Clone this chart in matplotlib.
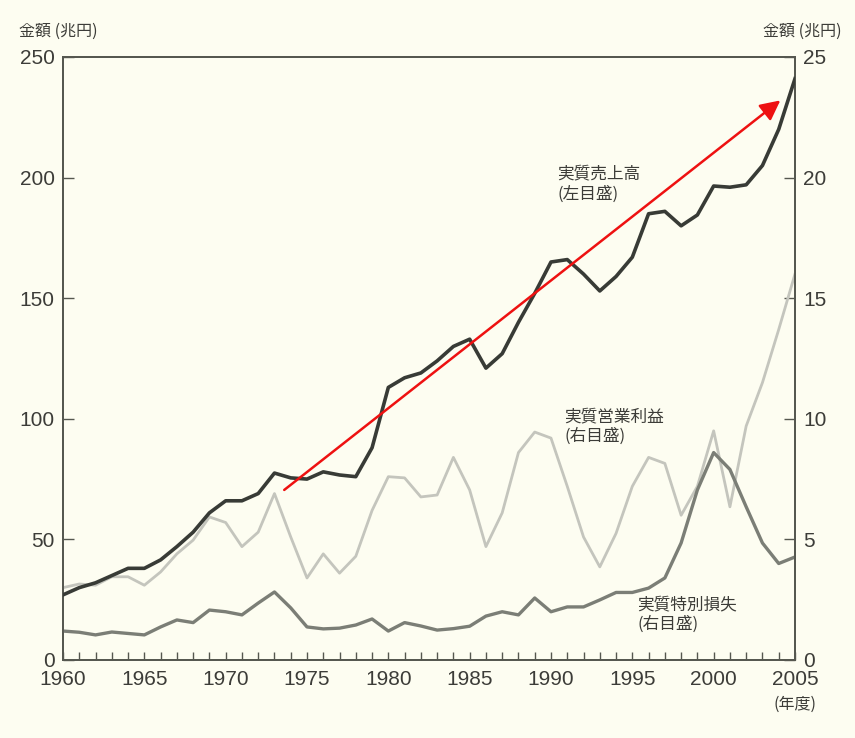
import numpy as np
import matplotlib
matplotlib.use("Agg")
import matplotlib.pyplot as plt

plt.rcParams['font.family'] = ['Liberation Sans', 'Noto Sans CJK JP', 'DejaVu Sans']

years = list(range(1960, 2006))

# 実質売上高 (left axis, 兆円)
sales = [27, 30, 32, 35, 38, 38, 41.5, 47, 53, 61,
         66, 66, 69, 77.5, 75.5, 75, 78, 76.7, 76, 88,
         113, 117, 119, 124, 130, 133, 121, 127, 140, 152,
         165, 166, 160, 153, 159, 167, 185, 186, 180, 184.5,
         196.5, 196, 197, 205, 220, 241]

# 実質営業利益 (right axis, 兆円)
op_profit = [3.0, 3.15, 3.1, 3.45, 3.45, 3.1, 3.65, 4.4, 4.97, 5.93,
             5.7, 4.7, 5.3, 6.9, 5.1, 3.4, 4.4, 3.6, 4.3, 6.2,
             7.6, 7.55, 6.76, 6.84, 8.4, 7.05, 4.7, 6.1, 8.6, 9.45,
             9.2, 7.2, 5.1, 3.86, 5.25, 7.2, 8.4, 8.15, 6.0, 7.2,
             9.5, 6.35, 9.7, 11.5, 13.7, 16.0]

# 実質特別損失 (right axis, 兆円)
sp_loss = [1.2, 1.15, 1.04, 1.16, 1.1, 1.04, 1.37, 1.66, 1.55, 2.07,
           2.0, 1.87, 2.36, 2.82, 2.16, 1.37, 1.29, 1.32, 1.45, 1.7,
           1.2, 1.55, 1.41, 1.24, 1.3, 1.4, 1.82, 2.0, 1.87, 2.57,
           2.0, 2.2, 2.2, 2.49, 2.8, 2.8, 2.98, 3.4, 4.85, 7.05,
           8.6, 7.9, 6.35, 4.85, 4.0, 4.27]

bg = '#fdfdf1'
text_c = '#3c3c38'
jp = ['Noto Sans CJK JP', 'DejaVu Sans']

fig = plt.figure(figsize=(8.55, 7.38), dpi=100, facecolor=bg)
ax = fig.add_axes([0.0737, 0.1057, 0.8561, 0.8171])
ax.set_facecolor(bg)
ax2 = ax.twinx()

ax2.plot(years, op_profit, color='#c4c5bd', lw=2.0, zorder=2)
ax2.plot(years, sp_loss, color='#7b7e76', lw=2.4, zorder=3)
ax.plot(years, sales, color='#383b36', lw=2.6, zorder=4)
ax.set_zorder(ax2.get_zorder() + 1)
ax.patch.set_visible(False)
ax2.patch.set_visible(True)
ax2.patch.set_facecolor(bg)

ax.set_xlim(1960, 2005)
ax.set_ylim(0, 250)
ax2.set_ylim(0, 25)

ax.set_xticks(range(1960, 2006, 5))
ax.set_xticks(years, minor=True)
ax.set_yticks(range(0, 251, 50))
ax2.set_yticks(range(0, 26, 5))

for a in (ax, ax2):
    for s in a.spines.values():
        s.set_color('#55574f')
        s.set_linewidth(1.3)

ax.tick_params(axis='x', which='both', direction='in', length=6, width=1,
               color='#55574f', labelsize=15, labelcolor=text_c, pad=7)
ax.tick_params(axis='y', direction='in', length=8, width=1, color='#55574f',
               labelsize=15, labelcolor=text_c, pad=6)
ax2.tick_params(axis='y', direction='in', length=8, width=1, color='#55574f',
                labelsize=15, labelcolor=text_c, pad=6)

# red trend arrow
ax.annotate('', xy=(2004.1, 232), xytext=(1973.6, 70.5),
            arrowprops=dict(arrowstyle='-|>', color='#ee1111', lw=1.8,
                            mutation_scale=30, shrinkA=0, shrinkB=0),
            zorder=6)

ax.text(1990.4, 205, '実質売上高\n(左目盛)', family=jp, fontsize=12,
        color=text_c, va='top', ha='left', linespacing=1.2)
ax2.text(1990.8, 10.45, '実質営業利益\n(右目盛)', family=jp, fontsize=12,
         color=text_c, va='top', ha='left', linespacing=1.2)
ax2.text(1995.3, 2.65, '実質特別損失\n(右目盛)', family=jp, fontsize=12,
         color=text_c, va='top', ha='left', linespacing=1.2)

fig.text(0.022, 0.958, '金額 (兆円)', family=jp, fontsize=11.5, color=text_c,
         ha='left', va='center')
fig.text(0.984, 0.958, '金額 (兆円)', family=jp, fontsize=11.5, color=text_c,
         ha='right', va='center')
fig.text(0.93, 0.045, '(年度)', family=jp, fontsize=11.5, color=text_c,
         ha='center', va='center')

fig.savefig('out.png', dpi=100, facecolor=bg)
